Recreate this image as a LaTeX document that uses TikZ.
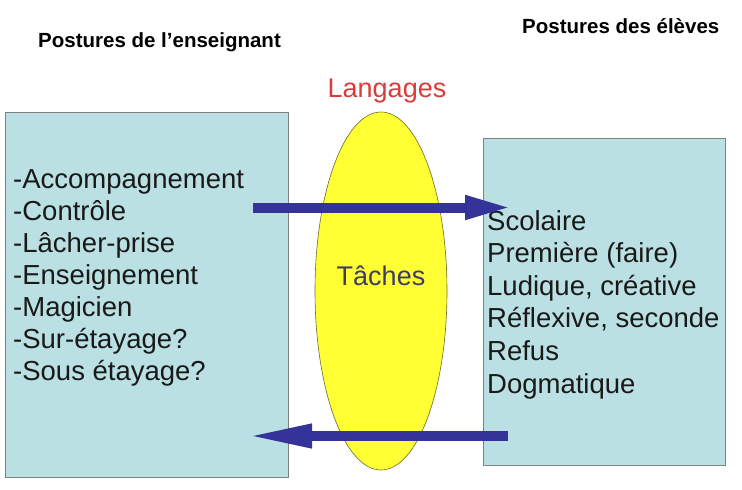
\documentclass[tikz,border=0pt]{standalone}
\usepackage{fontspec}
\setmainfont{Liberation Sans}
\usepackage{tikz}
\usetikzlibrary{positioning,arrows.meta,shapes.geometric}
\definecolor{boxcyan}{HTML}{BBE0E3}
\definecolor{boxrim}{HTML}{808080}
\definecolor{ovalyellow}{HTML}{FFFF33}
\definecolor{ovalrim}{HTML}{6B6B2F}
\definecolor{arrowblue}{HTML}{333399}
\definecolor{langred}{HTML}{DD3A3A}
\definecolor{tachegray}{HTML}{3C3C66}

\begin{document}
\begin{tikzpicture}[x=1pt, y=-1pt,
    postbox/.style={draw=boxrim, fill=boxcyan, line width=0.8pt, inner sep=0pt},
    item/.style={anchor=base west, inner sep=0pt, text=black!90, font=\fontsize{27.5}{33}\selectfont},
    heading/.style={anchor=base west, inner sep=0pt, font=\fontsize{20.5}{24}\selectfont\bfseries},
    bigarrow/.style={arrowblue, line width=10pt, -{Triangle[length=#1, width=22pt]}}]
    \useasboundingbox (0,0) rectangle (742,490);

    % Titles
    \node[heading] (tens) at (38, 47) {Postures de l'enseignant};
    \node[heading] (tele) at (522, 33) {Postures des élèves};

    % Boxes
    \node[postbox, minimum width=283pt, minimum height=365pt] (ens) at (146.5, 294.5) {};
    \node[postbox, minimum width=242pt, minimum height=327pt] (eleve) at (604, 301.5) {};

    % Oval in the middle
    \node[ellipse, draw=ovalrim, fill=ovalyellow, line width=0.6pt, inner sep=0pt,
          minimum width=132pt, minimum height=358pt] (taches) at (381, 291) {};
    \node[anchor=base, inner sep=0pt, text=tachegray, font=\fontsize{27}{32}\selectfont] (tlabel) at (381, 285) {Tâches};
    \node[anchor=base, inner sep=0pt, text=langred, font=\fontsize{27}{32}\selectfont] (lang) at (387, 97) {Langages};

    % Teacher postures
    \foreach \t [count=\i] in {-Accompagnement, -Contrôle, -Lâcher-prise, -Enseignement,
        -Magicien, -Sur-étayage?, -Sous étayage?}
        \node[item] (ens\i) at (13, 188+32*\i-32) {\t};

    % Pupil postures
    \foreach \t [count=\i] in {Scolaire, {Première (faire)}, {Ludique, créative},
        {Réflexive, seconde}, Refus, Dogmatique}
        \node[item] (ele\i) at (487, 230+32.6*\i-32.6) {\t};

    % Arrows
    \coordinate (goS) at (253, 207.5);
    \coordinate (goE) at (512, 207.5);
    \coordinate (backS) at (508, 436);
    \coordinate (backE) at (247, 436);
    \draw[bigarrow=47pt] (goS) -- (goE);
    \draw[bigarrow=65pt] (backS) -- (backE);
\end{tikzpicture}
\end{document}
